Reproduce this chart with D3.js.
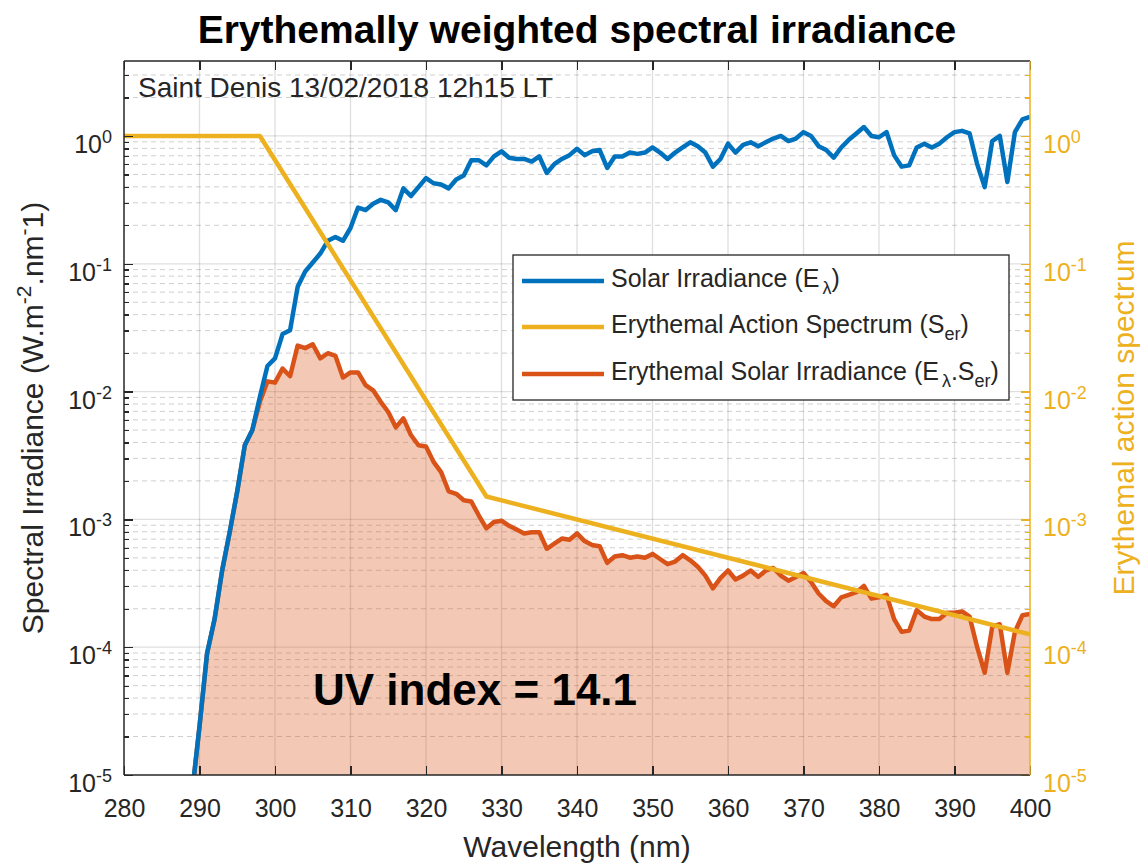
<!DOCTYPE html>
<html lang="en">
<head>
<meta charset="UTF-8">
<script src="https://d3js.org/d3.v7.min.js"></script>
<title>Erythemally weighted spectral irradiance</title>
<style>
    body { margin: 0; background: #fff; }
    svg text { font-family: "Liberation Sans", Arial, Helvetica, sans-serif; }
    .tick line { shape-rendering: crispEdges; }
</style>
</head>
<body>
<svg id="chart" width="1145" height="864"></svg>
<script>
    /*** DATA ***/
    // wavelength grid, nm
    var wavelength = [
        289, 290, 291, 292, 293, 294, 295, 296, 297, 298,
        299, 300, 301, 302, 303, 304, 305, 306, 307, 308,
        309, 310, 311, 312, 313, 314, 315, 316, 317, 318,
        319, 320, 321, 322, 323, 324, 325, 326, 327, 328,
        329, 330, 331, 332, 333, 334, 335, 336, 337, 338,
        339, 340, 341, 342, 343, 344, 345, 346, 347, 348,
        349, 350, 351, 352, 353, 354, 355, 356, 357, 358,
        359, 360, 361, 362, 363, 364, 365, 366, 367, 368,
        369, 370, 371, 372, 373, 374, 375, 376, 377, 378,
        379, 380, 381, 382, 383, 384, 385, 386, 387, 388,
        389, 390, 391, 392, 393, 394, 395, 396, 397, 398,
        399, 400
    ];

    // solar irradiance E, as log10(W.m-2.nm-1)
    var solarLog10 = [
        -5.15, -4.62, -4.05, -3.78, -3.40, -3.10, -2.78, -2.42, -2.30, -2.04,
        -1.80, -1.74, -1.55, -1.52, -1.18, -1.06, -0.99, -0.92, -0.82, -0.79,
        -0.82, -0.72, -0.56, -0.58, -0.53, -0.50, -0.52, -0.58, -0.41, -0.47,
        -0.40, -0.33, -0.37, -0.38, -0.41, -0.34, -0.31, -0.19, -0.19, -0.23,
        -0.16, -0.12, -0.17, -0.18, -0.18, -0.20, -0.16, -0.29, -0.22, -0.18,
        -0.15, -0.10, -0.15, -0.12, -0.11, -0.25, -0.16, -0.16, -0.13, -0.14,
        -0.13, -0.09, -0.13, -0.18, -0.13, -0.09, -0.05, -0.08, -0.13, -0.24,
        -0.18, -0.06, -0.13, -0.07, -0.05, -0.08, -0.05, -0.02, 0.00, -0.04,
        -0.02, 0.03, 0.00, -0.08, -0.11, -0.17, -0.09, -0.03, 0.02, 0.07,
        0.00, -0.01, 0.03, -0.15, -0.24, -0.23, -0.09, -0.06, -0.09, -0.06,
        -0.01, 0.03, 0.04, 0.02, -0.22, -0.40, -0.04, 0.00, -0.36, 0.03,
        0.13, 0.15
    ];

    // erythemal solar irradiance E.Ser, as log10(W.m-2.nm-1)
    var erythemalLog10 = [
        -5.15, -4.62, -4.05, -3.78, -3.40, -3.10, -2.78, -2.42, -2.30, -2.08,
        -1.92, -1.93, -1.82, -1.88, -1.64, -1.66, -1.63, -1.74, -1.70, -1.72,
        -1.89, -1.85, -1.85, -1.95, -1.99, -2.08, -2.16, -2.28, -2.21, -2.34,
        -2.42, -2.43, -2.55, -2.63, -2.78, -2.80, -2.85, -2.86, -2.97, -3.07,
        -3.02, -3.01, -3.05, -3.08, -3.11, -3.10, -3.10, -3.23, -3.19, -3.15,
        -3.16, -3.11, -3.17, -3.20, -3.21, -3.34, -3.29, -3.28, -3.30, -3.29,
        -3.30, -3.27, -3.31, -3.35, -3.33, -3.28, -3.32, -3.37, -3.44, -3.54,
        -3.46, -3.40, -3.47, -3.44, -3.40, -3.45, -3.40, -3.38, -3.44, -3.48,
        -3.45, -3.42, -3.49, -3.58, -3.64, -3.68, -3.61, -3.59, -3.57, -3.52,
        -3.62, -3.61, -3.59, -3.78, -3.88, -3.87, -3.71, -3.76, -3.78, -3.78,
        -3.73, -3.73, -3.72, -3.76, -4.00, -4.20, -3.84, -3.82, -4.20, -3.88,
        -3.75, -3.74
    ];

    // erythemal action spectrum, break points
    var actionWavelength = [280, 298, 328, 400];
    var actionValue = [1, 1, 0.00151, 0.000126];

    // ticks
    var xTicks = [280, 290, 300, 310, 320, 330, 340, 350, 360, 370, 380, 390, 400];
    var yDecades = [-5, -4, -3, -2, -1, 0];
    var yMax = 3.86;

    var legendLabels = ["Solar Irradiance", "Erythemal Action Spectrum", "Erythemal Solar Irradiance"];

    /*** SETUP ***/
    var blue = "#0072BD", yellow = "#EDB120", orange = "#D95319", ink = "#262626";
    var plot = { left: 124, top: 61, right: 1030, bottom: 775 };

    var svg = d3.select("#chart");

    var x = d3.scaleLinear().domain([280, 400]).range([plot.left, plot.right]);
    var y = d3.scaleLog().domain([1e-5, yMax]).range([plot.bottom, plot.top]);
    var yRight = d3.scaleLog().domain([1e-5, yMax]).range([plot.bottom, plot.top]);

    var solar = wavelength.map(function (w, i) { return { w: w, v: Math.pow(10, solarLog10[i]) }; });
    var erythemal = wavelength.map(function (w, i) { return { w: w, v: Math.pow(10, erythemalLog10[i]) }; });
    var action = actionWavelength.map(function (w, i) { return { w: w, v: actionValue[i] }; });

    // minor tick values 2..9 per decade
    var minorVals = [];
    yDecades.forEach(function (e) {
        for (var k = 2; k < 10; k++) {
            var v = k * Math.pow(10, e);
            if (v <= yMax) minorVals.push(v);
        }
    });
    var majorVals = yDecades.map(function (e) { return Math.pow(10, e); });

    svg.append("defs").append("clipPath").attr("id", "clip")
        .append("rect")
        .attr("x", plot.left).attr("y", plot.top)
        .attr("width", plot.right - plot.left).attr("height", plot.bottom - plot.top);

    /*** GRID ***/
    var grid = svg.append("g");
    grid.selectAll(".xg").data(xTicks.slice(1, -1)).enter().append("line")
        .attr("x1", function (d) { return x(d); }).attr("x2", function (d) { return x(d); })
        .attr("y1", plot.top).attr("y2", plot.bottom)
        .attr("stroke", ink).attr("stroke-opacity", 0.15).attr("stroke-width", 1.3);
    grid.selectAll(".ymg").data(minorVals).enter().append("line")
        .attr("x1", plot.left).attr("x2", plot.right)
        .attr("y1", function (d) { return y(d); }).attr("y2", function (d) { return y(d); })
        .attr("stroke", ink).attr("stroke-opacity", 0.22).attr("stroke-width", 1)
        .attr("stroke-dasharray", "5,4");
    grid.selectAll(".yg").data(majorVals.slice(1)).enter().append("line")
        .attr("x1", plot.left).attr("x2", plot.right)
        .attr("y1", function (d) { return y(d); }).attr("y2", function (d) { return y(d); })
        .attr("stroke", ink).attr("stroke-opacity", 0.15).attr("stroke-width", 1.3);

    /*** SERIES ***/
    var series = svg.append("g").attr("clip-path", "url(#clip)");

    var area = d3.area()
        .x(function (d) { return x(d.w); })
        .y0(plot.bottom)
        .y1(function (d) { return y(d.v); });

    var line = d3.line()
        .x(function (d) { return x(d.w); })
        .y(function (d) { return y(d.v); });

    var lineRight = d3.line()
        .x(function (d) { return x(d.w); })
        .y(function (d) { return yRight(d.v); });

    series.append("path").datum(erythemal)
        .attr("d", area).attr("fill", orange).attr("fill-opacity", 0.32);

    series.append("path").datum(erythemal)
        .attr("d", line).attr("fill", "none").attr("stroke", orange)
        .attr("stroke-width", 4.5).attr("stroke-linejoin", "round");

    series.append("path").datum(solar)
        .attr("d", line).attr("fill", "none").attr("stroke", blue)
        .attr("stroke-width", 4.5).attr("stroke-linejoin", "round");

    series.append("path").datum(action)
        .attr("d", lineRight).attr("fill", "none").attr("stroke", yellow)
        .attr("stroke-width", 4.5).attr("stroke-linejoin", "round");

    /*** AXES ***/
    function styleAxis(g, color) {
        g.select(".domain").remove();
        g.selectAll(".tick line").attr("stroke", color).attr("stroke-width", 1.3);
        g.selectAll(".tick text").attr("fill", color).style("font-size", "25px")
            .style("font-family", "'Liberation Sans', Arial, sans-serif");
    }

    svg.append("g").attr("transform", "translate(0," + plot.bottom + ")")
        .call(d3.axisBottom(x).tickValues(xTicks).tickSize(-9).tickPadding(24).tickFormat(d3.format("d")))
        .call(styleAxis, ink);

    svg.append("g").attr("transform", "translate(0," + plot.top + ")")
        .call(d3.axisTop(x).tickValues(xTicks).tickSize(-9).tickFormat(""))
        .call(styleAxis, ink);

    svg.append("g").attr("transform", "translate(" + plot.left + ",0)")
        .call(d3.axisLeft(y).tickValues(majorVals).tickSize(-9).tickFormat(""))
        .call(styleAxis, ink);
    svg.append("g").attr("transform", "translate(" + plot.left + ",0)")
        .call(d3.axisLeft(y).tickValues(minorVals).tickSize(-5).tickFormat(""))
        .call(styleAxis, ink);

    svg.append("g").attr("transform", "translate(" + plot.right + ",0)")
        .call(d3.axisRight(yRight).tickValues(majorVals).tickSize(-9).tickFormat(""))
        .call(styleAxis, yellow);
    svg.append("g").attr("transform", "translate(" + plot.right + ",0)")
        .call(d3.axisRight(yRight).tickValues(minorVals).tickSize(-5).tickFormat(""))
        .call(styleAxis, yellow);

    // box
    var box = svg.append("g").attr("stroke-width", 1.5);
    box.append("line").attr("x1", plot.left).attr("x2", plot.right).attr("y1", plot.top).attr("y2", plot.top).attr("stroke", ink);
    box.append("line").attr("x1", plot.left).attr("x2", plot.right).attr("y1", plot.bottom).attr("y2", plot.bottom).attr("stroke", ink);
    box.append("line").attr("x1", plot.left).attr("x2", plot.left).attr("y1", plot.top).attr("y2", plot.bottom).attr("stroke", ink);
    box.append("line").attr("x1", plot.right).attr("x2", plot.right).attr("y1", plot.top).attr("y2", plot.bottom).attr("stroke", yellow);

    // power-of-ten tick labels
    function powerLabels(scale, xPos, anchor, color) {
        var t = svg.append("g").selectAll("text").data(yDecades).enter().append("text")
            .attr("x", xPos)
            .attr("y", function (e) { return scale(Math.pow(10, e)) + 17; })
            .attr("text-anchor", anchor)
            .attr("fill", color)
            .style("font-size", "25px");
        t.append("tspan").text("10");
        t.append("tspan").attr("dy", -10).style("font-size", "18px").text(function (e) { return e; });
    }
    powerLabels(y, plot.left - 12, "end", ink);
    powerLabels(yRight, plot.right + 13, "start", yellow);

    /*** LABELS ***/
    svg.append("text")
        .attr("x", (plot.left + plot.right) / 2).attr("y", 43)
        .attr("text-anchor", "middle")
        .style("font-size", "39px").style("font-weight", "bold").attr("fill", "#000")
        .text("Erythemally weighted spectral irradiance");

    svg.append("text")
        .attr("x", (plot.left + plot.right) / 2).attr("y", 857)
        .attr("text-anchor", "middle")
        .style("font-size", "30px").attr("fill", ink)
        .text("Wavelength (nm)");

    var yl = svg.append("text")
        .attr("transform", "translate(43," + (plot.top + plot.bottom) / 2 + ") rotate(-90)")
        .attr("text-anchor", "middle")
        .style("font-size", "30px").attr("fill", ink);
    yl.append("tspan").text("Spectral Irradiance (W.m");
    yl.append("tspan").attr("dy", -12).style("font-size", "21px").text("-2");
    yl.append("tspan").attr("dy", 12).text(".nm");
    yl.append("tspan").attr("dy", -12).style("font-size", "21px").text("-");
    yl.append("tspan").attr("dy", 12).text("1)");

    svg.append("text")
        .attr("transform", "translate(1134," + (plot.top + plot.bottom) / 2 + ") rotate(-90)")
        .attr("text-anchor", "middle")
        .style("font-size", "30px").attr("fill", yellow)
        .text("Erythemal action spectrum");

    svg.append("text")
        .attr("x", 138).attr("y", 97)
        .style("font-size", "28px").attr("fill", ink)
        .text("Saint Denis 13/02/2018 12h15 LT");

    svg.append("text")
        .attr("x", 313).attr("y", 705)
        .style("font-size", "44px").style("font-weight", "bold").attr("fill", "#000")
        .text("UV index = 14.1");

    /*** LEGEND ***/
    var legend = svg.append("g");
    legend.append("rect")
        .attr("x", 513).attr("y", 255).attr("width", 496).attr("height", 145)
        .attr("fill", "#fff").attr("stroke", ink).attr("stroke-width", 1.3);

    var legendColors = [blue, yellow, orange];
    var rowY = [281, 327, 374];
    legendLabels.forEach(function (label, i) {
        legend.append("line")
            .attr("x1", 522).attr("x2", 604).attr("y1", rowY[i]).attr("y2", rowY[i])
            .attr("stroke", legendColors[i]).attr("stroke-width", 4.5);
        var t = legend.append("text")
            .attr("x", 611).attr("y", rowY[i] + 6)
            .style("font-size", "25px").attr("fill", ink);
        t.append("tspan").text(label + " (");
        if (i === 0) {
            t.append("tspan").text("E");
            t.append("tspan").attr("dx", 3).attr("dy", 7).style("font-size", "18px").text("λ");
            t.append("tspan").attr("dy", -7).text(")");
        } else if (i === 1) {
            t.append("tspan").text("S");
            t.append("tspan").attr("dy", 7).style("font-size", "18px").text("er");
            t.append("tspan").attr("dy", -7).text(")");
        } else {
            t.append("tspan").text("E");
            t.append("tspan").attr("dx", 3).attr("dy", 7).style("font-size", "18px").text("λ");
            t.append("tspan").attr("dy", -7).text(".S");
            t.append("tspan").attr("dy", 7).style("font-size", "18px").text("er");
            t.append("tspan").attr("dy", -7).text(")");
        }
    });
</script>
</body>
</html>
